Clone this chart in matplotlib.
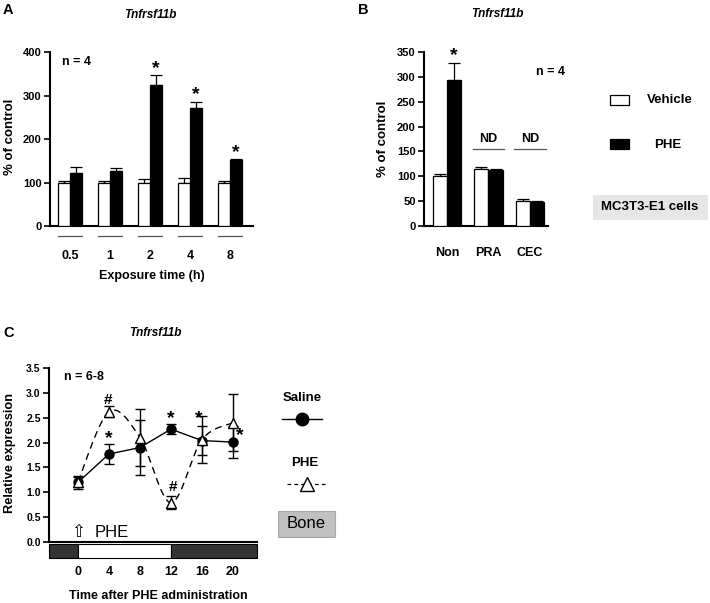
import numpy as np
import matplotlib
matplotlib.use("Agg")
import matplotlib.pyplot as plt
from matplotlib.patches import Rectangle, PathPatch
from matplotlib.path import Path
from matplotlib.lines import Line2D
import matplotlib.transforms as mtrans

W, H = 710, 603

# ---------- data ----------
a_times = ["0.5", "1", "2", "4", "8"]
a_vehicle = [100, 100, 100, 100, 100]
a_vehicle_err = [3, 3, 7, 10, 3]
a_phe = [122, 127, 323, 271, 151]
a_phe_err = [13, 7, 23, 14, 2]
a_sig = [False, False, True, True, True]

b_groups = ["Non", "PRA", "CEC"]
b_vehicle = [100, 115, 51]
b_vehicle_err = [5, 3, 3]
b_phe = [293, 113, 48]
b_phe_err = [35, 1, 2]
b_nd = [False, True, True]

c_hours = [0, 4, 8, 12, 16, 20]
c_saline = [1.20, 1.77, 1.90, 2.27, 2.04, 2.01]
c_saline_err = [0.13, 0.21, 0.55, 0.10, 0.30, 0.33]
c_phe = [1.21, 2.62, 2.10, 0.79, 2.06, 2.40]
c_phe_err = [0.10, 0.11, 0.58, 0.13, 0.48, 0.57]

plt.rcParams["font.family"] = ["Liberation Sans", "DejaVu Sans"]
plt.rcParams["font.weight"] = "bold"
plt.rcParams["axes.linewidth"] = 1.5


def box(l, t, r, b):          # pixel box -> figure rect
    return [l / W, 1 - b / H, (r - l) / W, (b - t) / H]

def fx(x): return x / W
def fy(y): return 1 - y / H


def style(ax, ysize=8, xsize=9, pad=16):
    for s in ("top", "right"):
        ax.spines[s].set_visible(False)
    ax.tick_params(axis="y", direction="out", length=4, width=1.2, labelsize=ysize, pad=2)
    ax.tick_params(axis="x", length=0, labelsize=xsize, pad=pad)


def star(ax, x, y, txt="*", dy=2, size=14):
    ax.annotate(txt, (x, y), xytext=(0, dy), textcoords="offset points",
                ha="center", va="baseline", fontsize=size, fontweight="bold")


fig = plt.figure(figsize=(W / 100, H / 100), dpi=100)

# ---------- A ----------
axA = fig.add_axes(box(50, 52, 253, 226))
xa = np.arange(len(a_times))
bw = 0.3
zeros = np.zeros(len(xa))
axA.bar(xa - bw / 2, a_vehicle, bw, color="white", edgecolor="black", lw=0.9, zorder=3)
axA.bar(xa + bw / 2, a_phe, bw, color="black", edgecolor="black", lw=0.9, zorder=3)
axA.errorbar(xa - bw / 2, a_vehicle, yerr=[zeros, a_vehicle_err], fmt="none", ecolor="black",
             elinewidth=0.9, capsize=4, capthick=0.9, zorder=2)
axA.errorbar(xa + bw / 2, a_phe, yerr=[zeros, a_phe_err], fmt="none", ecolor="black",
             elinewidth=0.9, capsize=4, capthick=0.9, zorder=2)
axA.set_xlim(-0.5, 4.575)
axA.set_ylim(0, 400)
axA.set_yticks(range(0, 401, 100))
axA.set_xticks(xa, a_times)
style(axA, pad=17)
for i in xa:
    axA.plot([i - 0.29, i + 0.29], [-23, -23], color="#555555", lw=0.9, clip_on=False)
    if a_sig[i]:
        star(axA, i + bw / 2, a_phe[i] + a_phe_err[i])
axA.text(0.06, 0.94, "n = 4", transform=axA.transAxes, fontsize=9, va="center")
fig.text(fx(10), fy(137), "% of control", rotation=90, ha="center", va="center", fontsize=9.5)
fig.text(fx(152), fy(276), "Exposure time (h)", ha="center", va="center", fontsize=9)
fig.text(fx(150), fy(15), "Tnfrsf11b", ha="center", va="center", fontsize=8.5, style="italic")
fig.text(fx(3), fy(10), "A", ha="left", va="center", fontsize=10.5)

# ---------- B ----------
axB = fig.add_axes(box(424, 52, 548, 226))
xb = np.arange(len(b_groups))
bw2 = 0.34
zb = np.zeros(len(xb))
axB.bar(xb - bw2 / 2, b_vehicle, bw2, color="white", edgecolor="black", lw=0.9, zorder=3)
axB.bar(xb + bw2 / 2, b_phe, bw2, color="black", edgecolor="black", lw=0.9, zorder=3)
axB.errorbar(xb - bw2 / 2, b_vehicle, yerr=[zb, b_vehicle_err], fmt="none", ecolor="black",
             elinewidth=0.9, capsize=4, capthick=0.9, zorder=2)
axB.errorbar(xb + bw2 / 2, b_phe, yerr=[zb, b_phe_err], fmt="none", ecolor="black",
             elinewidth=0.9, capsize=4, capthick=0.9, zorder=2)
axB.set_xlim(-0.554, 2.434)
axB.set_ylim(0, 350)
axB.set_yticks(range(0, 351, 50))
axB.set_xticks(xb, b_groups)
style(axB, pad=15)
star(axB, xb[0] + bw2 / 2, b_phe[0] + b_phe_err[0])
for i in xb:
    if b_nd[i]:
        axB.plot([i - 0.38, i + 0.38], [155, 155], color="#555555", lw=0.9)
        axB.text(i, 175, "ND", ha="center", va="center", fontsize=9)
axB.text(0.90, 0.885, "n = 4", transform=axB.transAxes, fontsize=9, va="center", ha="left")
fig.text(fx(383), fy(139), "% of control", rotation=90, ha="center", va="center", fontsize=9.5)
fig.text(fx(497), fy(14), "Tnfrsf11b", ha="center", va="center", fontsize=8.5, style="italic")
fig.text(fx(358), fy(10), "B", ha="left", va="center", fontsize=10.5)

# legend B
fig.add_artist(Rectangle((fx(610), fy(105)), 19 / W, 10 / H, facecolor="white",
                         edgecolor="black", lw=0.9, transform=fig.transFigure))
fig.add_artist(Rectangle((fx(610), fy(149)), 19 / W, 10 / H, facecolor="black",
                         edgecolor="black", lw=0.9, transform=fig.transFigure))
fig.text(fx(647), fy(100), "Vehicle", ha="left", va="center", fontsize=9.5)
fig.text(fx(668), fy(145), "PHE", ha="center", va="center", fontsize=9.5)
fig.add_artist(Rectangle((fx(593), fy(220)), 115 / W, 25 / H, facecolor="#e6e6e6",
                         edgecolor="none", transform=fig.transFigure))
fig.text(fx(650), fy(207.5), "MC3T3-E1 cells", ha="center", va="center", fontsize=9.5)

# ---------- C ----------
axC = fig.add_axes(box(49, 368, 257, 542))
axC.set_xlim(-3.74, 23.1)
axC.set_ylim(0, 3.5)
axC.set_yticks(np.arange(0, 3.51, 0.5))
axC.set_yticklabels([f"{v:.1f}" for v in np.arange(0, 3.51, 0.5)])
axC.set_xticks(c_hours)
style(axC, ysize=7.5, xsize=9, pad=17)

# light / dark bar under axis
btr = mtrans.blended_transform_factory(axC.transData, axC.transAxes)
x0, x1 = axC.get_xlim()
for l, r, col in [(x0, 0, "#333333"), (0, 12, "white"), (12, x1, "#333333")]:
    axC.add_patch(Rectangle((l, -0.092), r - l, 0.08, facecolor=col, edgecolor="black",
                            lw=0.8, transform=btr, clip_on=False))

# PHE: smooth dashed curve (Catmull-Rom as cubic Bezier)
pts = np.column_stack([c_hours, c_phe]).astype(float)
ext = np.vstack([pts[0], pts, pts[-1]])
verts = [tuple(pts[0])]
codes = [Path.MOVETO]
for k in range(len(pts) - 1):
    p0, p1, p2, p3 = ext[k], ext[k + 1], ext[k + 2], ext[k + 3]
    verts += [tuple(p1 + (p2 - p0) / 6), tuple(p2 - (p3 - p1) / 6), tuple(p2)]
    codes += [Path.CURVE4] * 3
axC.add_patch(PathPatch(Path(verts, codes), facecolor="none", edgecolor="black",
                        lw=1.0, ls=(0, (5, 3.5)), zorder=2))

axC.errorbar(c_hours, c_saline, yerr=c_saline_err, fmt="-o", color="black", ms=6.5,
             lw=1.0, elinewidth=1.0, capsize=3.5, capthick=1.0, zorder=3)
axC.errorbar(c_hours, c_phe, yerr=c_phe_err, fmt="^", color="black", mfc="white", mec="black",
             ms=7, elinewidth=1.0, capsize=3.5, capthick=1.0, zorder=4)

star(axC, 3.9, 2.78, "#", dy=0, size=11)
star(axC, 4.0, 1.98, dy=0, size=14)
star(axC, 12.0, 2.40, dy=0, size=14)
star(axC, 15.6, 2.40, dy=0, size=14)
star(axC, 20.9, 2.05, dy=0, size=14)
star(axC, 12.2, 1.03, "#", dy=0, size=11)
axC.text(0.0, 0.20, "\u21e7", ha="center", va="center", fontsize=12, family="DejaVu Sans",
         fontweight="normal")
axC.text(2.2, 0.20, "PHE", ha="left", va="center", fontsize=12, fontweight="normal")
axC.text(0.07, 0.95, "n = 6-8", transform=axC.transAxes, fontsize=9, va="center")

fig.text(fx(10), fy(453), "Relative expression", rotation=90, ha="center", va="center", fontsize=9.2)
fig.text(fx(158), fy(596), "Time after PHE administration", ha="center", va="center", fontsize=9)
fig.text(fx(155), fy(333), "Tnfrsf11b", ha="center", va="center", fontsize=8.5, style="italic")
fig.text(fx(3), fy(333), "C", ha="left", va="center", fontsize=10.5)

# legend C
fig.text(fx(302), fy(398), "Saline", ha="center", va="center", fontsize=9.5)
fig.add_artist(Line2D([fx(282), fx(322)], [fy(419), fy(419)], color="black", lw=1.0,
                      transform=fig.transFigure))
fig.add_artist(Line2D([fx(302)], [fy(419)], marker="o", ms=9, color="black",
                      transform=fig.transFigure))
fig.text(fx(305), fy(463), "PHE", ha="center", va="center", fontsize=9.5)
fig.add_artist(Line2D([fx(287), fx(325)], [fy(484), fy(484)], color="black", lw=0.9,
                      ls=(0, (3, 2.5)), transform=fig.transFigure))
fig.add_artist(Line2D([fx(307)], [fy(484)], marker="^", ms=10, mfc="white", mec="black",
                      transform=fig.transFigure))
fig.add_artist(Rectangle((fx(278), fy(537)), 57 / W, 26 / H, facecolor="#c0c0c0",
                         edgecolor="#a8a8a8", lw=0.8, transform=fig.transFigure))
fig.text(fx(306.5), fy(524), "Bone", ha="center", va="center", fontsize=12, fontweight="normal")

fig.savefig("out.png", dpi=100)
